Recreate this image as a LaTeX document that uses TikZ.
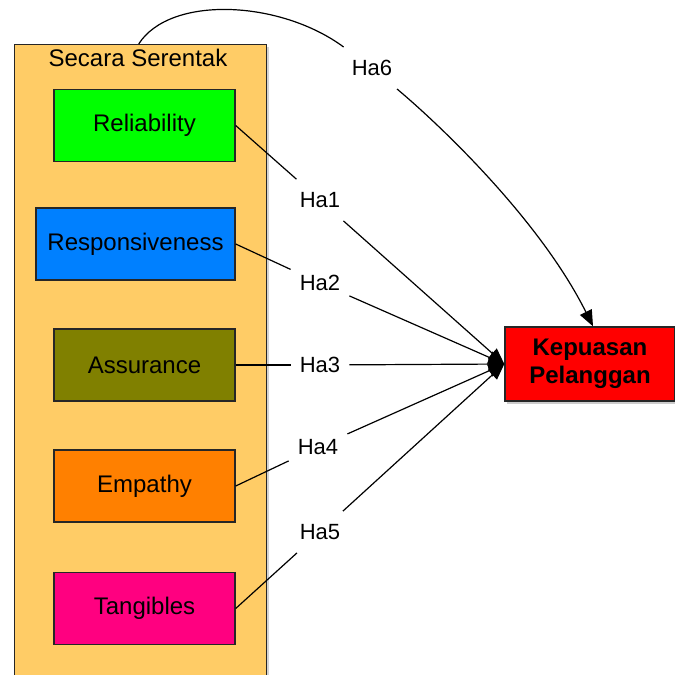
\documentclass[tikz,border=0pt]{standalone}
\usepackage{fontspec}
\setmainfont{Liberation Sans}
\usetikzlibrary{arrows.meta,shadows}
\definecolor{grpfill}{RGB}{255,204,102}
\definecolor{cgreen}{RGB}{0,255,0}
\definecolor{cblue}{RGB}{0,128,255}
\definecolor{colive}{RGB}{128,128,0}
\definecolor{corange}{RGB}{255,128,0}
\definecolor{cmag}{RGB}{255,0,128}
\definecolor{cred}{RGB}{255,0,0}
\begin{document}
\begin{tikzpicture}[x=1pt,y=-1pt,
  font=\fontsize{24}{28}\selectfont,
  grpbox/.style={draw=black!85,line width=1.4pt,fill=grpfill,rectangle,inner sep=0pt,
     drop shadow={shadow xshift=2pt,shadow yshift=-2pt,opacity=0.35}},
  dimbox/.style={draw=black!85,line width=1.4pt,rectangle,inner sep=0pt,minimum height=72pt},
  kpbox/.style={draw=black!85,line width=1.4pt,rectangle,fill=cred,inner sep=0pt,
     minimum width=170pt,minimum height=74pt,align=center,font=\fontsize{24}{28}\selectfont\bfseries,
     drop shadow={shadow xshift=2pt,shadow yshift=-3pt,opacity=0.4}},
  hlabel/.style={rectangle,inner xsep=9pt,inner ysep=13pt,font=\fontsize{22}{26}\selectfont},
  conn/.style={line width=1.2pt,black},
  arr/.style={conn,-{Triangle[length=16pt,width=13pt]}}
]
\useasboundingbox (0,0) rectangle (675,675);
% group box
\node[grpbox,anchor=north west,minimum width=252pt,minimum height=646pt] (grp) at (14,44) {};
\node (title) at (138,58) {Secara Serentak};
% dimensions
\node[dimbox,fill=cgreen,minimum width=181pt] (rel) at (144.5,125.5) {Reliability};
\node[dimbox,fill=cblue,minimum width=199pt] (res) at (135.5,244) {Responsiveness};
\node[dimbox,fill=colive,minimum width=181pt] (ass) at (144.5,365) {Assurance};
\node[dimbox,fill=corange,minimum width=181pt] (emp) at (144.5,486) {Empathy};
\node[dimbox,fill=cmag,minimum width=181pt] (tan) at (144.5,608.5) {Tangibles};
% target
\node[kpbox] (kp) at (590,364) {Kepuasan\\Pelanggan};
% labels
\node[hlabel] (ha1) at (320,200) {Ha1};
\node[hlabel] (ha2) at (320,283) {Ha2};
\node[hlabel] (ha3) at (320,365) {Ha3};
\node[hlabel] (ha4) at (318,447) {Ha4};
\node[hlabel] (ha5) at (320,532) {Ha5};
\node[hlabel] (ha6) at (372,68) {Ha6};
% connectors
\draw[conn] (rel.east) -- (ha1);
\draw[conn] (res.east) -- (ha2);
\draw[conn] (ass.east) -- (ha3);
\draw[conn] (emp.east) -- (ha4);
\draw[conn] (tan.east) -- (ha5);
\draw[arr] (ha1) -- (kp.west);
\draw[arr] (ha2) -- (kp.west);
\draw[arr] (ha3) -- (kp.west);
\draw[arr] (ha4) -- (kp.west);
\draw[arr] (ha5) -- (kp.west);
\draw[conn] ([xshift=-2pt]grp.north) .. controls (170,-5) and (280,0) .. (ha6);
\draw[arr] (ha6) .. controls (440,125) and (540,220) .. ([xshift=3pt]kp.north);
\end{tikzpicture}
\end{document}
